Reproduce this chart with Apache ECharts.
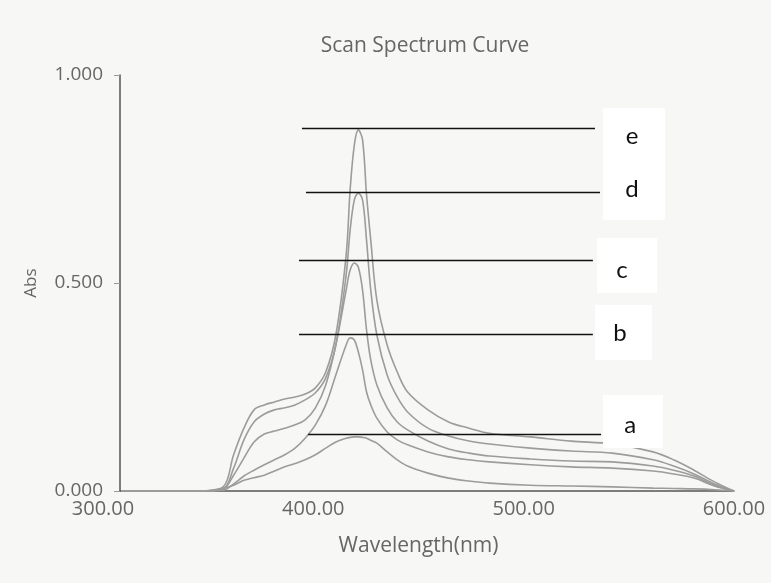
<!DOCTYPE html>
<html>
<head>
<meta charset="utf-8">
<script src="https://cdn.jsdelivr.net/npm/echarts@6/dist/echarts.min.js"></script>
<style>
html,body{margin:0;padding:0;background:#f7f7f5;}
#c{width:771px;height:583px;}
</style>
</head>
<body>
<div id="c"></div>
<script>
// Wavelength sample points (nm)
const wavelengths = [308.6,347.5,357.2,362.1,367.0,371.8,376.7,381.5,386.4,391.3,396.1,401.0,405.9,410.7,415.6,417.5,419.5,421.4,423.4,425.3,427.3,430.2,435.1,439.9,444.8,454.5,464.3,474.0,483.7,503.2,522.6,542.1,561.5,571.3,581.0,590.7,600.0];
// Absorbance per curve
const curveE = [0,0,0.010,0.087,0.151,0.195,0.207,0.214,0.221,0.226,0.233,0.248,0.286,0.375,0.567,0.724,0.832,0.868,0.844,0.712,0.603,0.459,0.351,0.286,0.238,0.195,0.166,0.151,0.139,0.130,0.120,0.113,0.094,0.075,0.050,0.022,0];
const curveD = [0,0,0.005,0.055,0.123,0.166,0.185,0.195,0.200,0.207,0.219,0.236,0.272,0.351,0.519,0.627,0.700,0.716,0.700,0.603,0.483,0.375,0.279,0.226,0.190,0.151,0.132,0.120,0.113,0.103,0.096,0.091,0.075,0.060,0.041,0.017,0];
const curveC = [0,0,0.005,0.038,0.079,0.118,0.137,0.144,0.151,0.159,0.171,0.200,0.255,0.351,0.483,0.531,0.548,0.538,0.483,0.387,0.315,0.255,0.200,0.166,0.147,0.120,0.101,0.091,0.084,0.077,0.072,0.070,0.060,0.050,0.036,0.014,0];
const curveB = [0,0,0.002,0.017,0.036,0.050,0.063,0.075,0.087,0.103,0.127,0.159,0.207,0.279,0.351,0.368,0.363,0.334,0.291,0.238,0.207,0.175,0.142,0.123,0.111,0.094,0.082,0.075,0.070,0.063,0.058,0.055,0.048,0.041,0.031,0.012,0];
const curveA = [0,0,0.007,0.014,0.026,0.032,0.038,0.048,0.058,0.066,0.075,0.087,0.103,0.118,0.127,0.129,0.130,0.130,0.129,0.127,0.122,0.115,0.094,0.075,0.060,0.043,0.031,0.024,0.019,0.014,0.012,0.010,0.007,0.006,0.005,0.003,0];

// Axis range / ticks
const xMin = 300, xMax = 600, xStep = 100;
const yMin = 0, yMax = 1, yStep = 0.5;

// Annotation marker lines: label, level (Abs), start/end wavelength
const annNames  = ['e','d','c','b','a'];
const annLevels = [0.873,0.719,0.555,0.377,0.137];
const annStart  = [394.6,396.5,393.2,393.2,397.5];
const annEnd    = [533.9,536.3,532.9,532.9,536.8];
// Annotation text anchors (nm, Abs)
const annTextX  = [551.5,551.5,546.8,545.8,550.6];
const annTextY  = [0.853,0.726,0.531,0.380,0.159];
// Annotation white boxes (nm, Abs centre)
const boxX = [552.5,549.1,547.5,552.0];
const boxY = [0.786,0.542,0.381,0.167];

const curves = [curveA,curveB,curveC,curveD,curveE];
const boxSize = [[62,112],[60,55],[57,55],[60,53]];

const chart = echarts.init(document.getElementById('c'), null, {renderer:'canvas'});
const font = '"Open Sans", "Noto Sans", sans-serif';

const series = curves.map(function(vals, i){
  return {
    type:'line',
    name:'curve'+i,
    data: wavelengths.map(function(w,k){return [w, vals[k]];}),
    smooth:0.35,
    showSymbol:false,
    lineStyle:{color:'#9c9c9c', width:1.6},
    z:2
  };
});

series.push({
  type:'line',
  name:'ann',
  data:[],
  z:5,
  markLine:{
    silent:true,
    symbol:['none','none'],
    animation:false,
    label:{show:false},
    lineStyle:{color:'#111', width:1.4, type:'solid'},
    data: annLevels.map(function(lv,i){
      return [{coord:[annStart[i], lv]}, {coord:[annEnd[i], lv]}];
    })
  },
  markPoint:{
    silent:true,
    animation:false,
    data: boxX.map(function(x,i){
      return {coord:[x, boxY[i]], symbol:'rect', symbolSize: boxSize[i],
              itemStyle:{color:'#ffffff'}, label:{show:false}};
    }).concat(annNames.map(function(n,i){
      return {coord:[annTextX[i], annTextY[i]], symbol:'rect', symbolSize:1,
              itemStyle:{color:'rgba(0,0,0,0)'},
              label:{show:true, position:'inside', formatter:n, color:'#111',
                     fontSize:24, fontFamily:'"Lato", "Open Sans", sans-serif'}};
    }))
  }
});

chart.setOption({
  backgroundColor:'#f7f7f5',
  animation:false,
  title:{
    text:'Scan Spectrum Curve',
    left:420, top:31, textAlign:'center',
    textStyle:{color:'#666', fontSize:21, fontWeight:'normal', fontFamily:font}
  },
  grid:[
    {left:103, right:37, top:75, bottom:92, containLabel:false},
    {left:120, right:37, top:75, bottom:92, containLabel:false}
  ],
  xAxis:[{
    type:'value', min:xMin, max:xMax, interval:xStep, gridIndex:0,
    name:'Wavelength(nm)', nameLocation:'middle', nameGap:45,
    nameTextStyle:{color:'#666', fontSize:21, fontFamily:font},
    axisLine:{show:false},
    axisTick:{show:false},
    splitLine:{show:false},
    axisLabel:{color:'#666', fontSize:20, fontFamily:font, margin:8,
      formatter:function(v){return v.toFixed(2);}}
  },{
    type:'value', gridIndex:1, min:0, max:1,
    axisLine:{show:true, lineStyle:{color:'#555', width:1.5}},
    axisTick:{show:false}, axisLabel:{show:false}, splitLine:{show:false}
  }],
  yAxis:[{
    type:'value', min:yMin, max:yMax, interval:yStep, gridIndex:0,
    offset:-17,
    name:'Abs', nameLocation:'middle', nameGap:80, nameRotate:90,
    nameTextStyle:{color:'#666', fontSize:17, fontFamily:font},
    axisLine:{show:true, lineStyle:{color:'#555', width:1.5}},
    axisTick:{show:true, length:6, lineStyle:{color:'#999'}},
    splitLine:{show:false},
    axisLabel:{color:'#666', fontSize:19, fontFamily:font, margin:17,
      formatter:function(v){return v.toFixed(3);}}
  },{
    type:'value', gridIndex:1, min:0, max:1, show:false
  }],
  series:series
});
</script>
</body>
</html>
